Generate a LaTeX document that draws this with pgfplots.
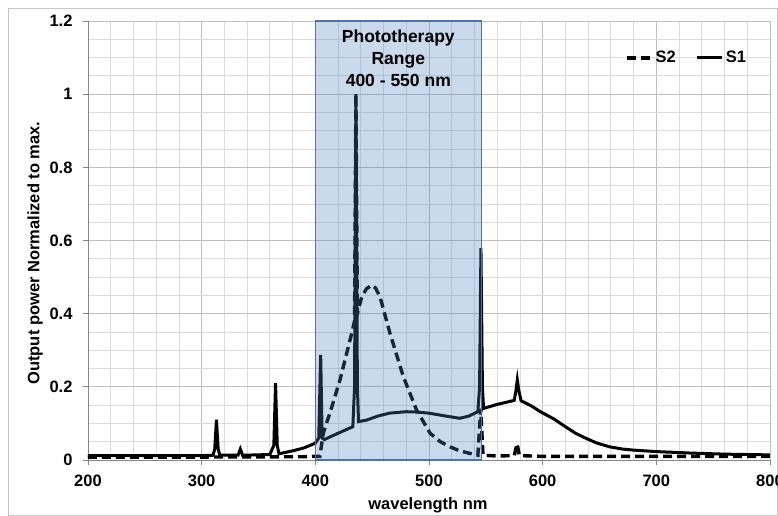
\documentclass[border=0pt]{standalone}
\usepackage{fontspec}
\setmainfont{Liberation Sans}
\usepackage{pgfplots}
\pgfplotsset{compat=1.18}
\definecolor{boxblue}{HTML}{4F81BD}
\definecolor{boxedge}{HTML}{4A74AA}
\definecolor{majgrid}{HTML}{BFBFBF}
\definecolor{mingrid}{HTML}{DCDCDC}
\definecolor{axgray}{HTML}{868686}

\begin{document}
\begin{tikzpicture}
\useasboundingbox (-88bp,-56bp) rectangle (690bp,460bp);
\draw[mingrid!90!black, line width=0.8bp] (-80bp,-55bp) rectangle (689bp,452bp);
\begin{axis}[
    at={(0,0)}, anchor=south west,
    scale only axis,
    width=682bp, height=439bp,
    xmin=200, xmax=800, ymin=0, ymax=1.2,
    xtick={200,300,...,800},
    ytick={0,0.2,...,1.2},
    minor x tick num=4,
    minor y tick num=3,
    grid=both,
    major grid style={majgrid, line width=0.8bp},
    minor grid style={mingrid, line width=0.8bp},
    axis line style={axgray, line width=0.8bp},
    tick style={axgray, line width=0.8bp},
    tick align=outside,
    major tick length=5bp,
    minor tick length=0pt,
    axis x line*=bottom, axis y line*=left,
    /pgf/number format/assume math mode=true,
    tick label style={font=\fontsize{16.5bp}{19bp}\selectfont\bfseries},
    yticklabel style={xshift=-7bp},
    xticklabel style={yshift=-6bp},
    xlabel={wavelength nm},
    ylabel={Output power Normalized to max.},
    label style={font=\fontsize{16.5bp}{19bp}\selectfont\bfseries},
    xlabel style={at={(axis description cs:0.4985,-0.1025)}, anchor=center},
    ylabel style={at={(axis description cs:-0.0777,0.4715)}, anchor=center},
    legend style={draw=none, fill=none, at={(axis description cs:0.968,0.916)},
        anchor=east, legend columns=2, font=\fontsize{16.5bp}{19bp}\selectfont\bfseries,
        /tikz/every even column/.append style={column sep=18bp},
        cells={anchor=west}, inner sep=0pt},
    legend image code/.code={\draw[#1] (0bp,0bp) -- (25bp,0bp);},
]
% S2
\addplot[black, line width=3.4bp, dash pattern=on 9bp off 5bp] coordinates {
(200,0.008) (300,0.008) (390,0.009) (400,0.010) (404,0.010) (407,0.073)
(414,0.140) (421.7,0.219) (432,0.346) (434.5,0.380) (435.7,1.0) (437,0.400)
(440.8,0.446) (445,0.468) (449.6,0.478) (453,0.470) (456.9,0.446) (465.7,0.346)
(477.4,0.228) (489,0.137) (501,0.073) (510,0.050) (518.5,0.036) (527,0.025)
(536,0.018) (543,0.013) (545.5,0.140) (547.5,0.013) (560,0.011) (575,0.012)
(577.5,0.045) (579.5,0.012) (600,0.010) (700,0.010) (800,0.010)
};
\addlegendentry{S2}
% S1
\addplot[black, line width=3bp] coordinates {
(200,0.012) (250,0.012) (300,0.012) (310,0.013) (311.5,0.030) (313,0.110)
(314.5,0.030) (316,0.013) (332,0.013) (334,0.030) (336,0.013) (360,0.015)
(363.5,0.040) (365,0.210) (366.5,0.040) (368,0.017) (380,0.025) (390,0.033)
(400,0.046) (403,0.060) (404.7,0.287) (406,0.060) (408,0.056) (415,0.066)
(425,0.080) (433,0.091) (434.5,0.200) (435.7,1.0) (437,0.200) (438,0.105)
(445,0.109) (455,0.120) (465,0.128) (480,0.132) (490,0.131) (500,0.128)
(515,0.120) (527,0.114) (535,0.120) (543,0.132) (544.5,0.200) (545.7,0.579)
(547,0.200) (548,0.141) (560,0.152) (571,0.160) (575,0.163) (576.5,0.190)
(577.7,0.219) (579,0.190) (581,0.162) (590,0.148) (598,0.132) (610,0.112)
(620,0.091) (629,0.073) (639,0.058) (648,0.046) (659,0.036) (670,0.030)
(680,0.027) (700,0.023) (730,0.019) (760,0.016) (800,0.014)
};
\addlegendentry{S1}
% phototherapy range box, drawn over the curves
\draw[boxedge, line width=1.2bp, fill=boxblue, fill opacity=0.3]
    (axis cs:400,0) rectangle (axis cs:546.5,1.2);
\node[anchor=north, align=center, inner sep=0pt, yshift=-9bp,
      font=\fontsize{17.5bp}{22bp}\selectfont\bfseries]
    at (axis cs:473,1.2) {Phototherapy\\Range\\400 - 550 nm};
\end{axis}
\end{tikzpicture}
\end{document}
